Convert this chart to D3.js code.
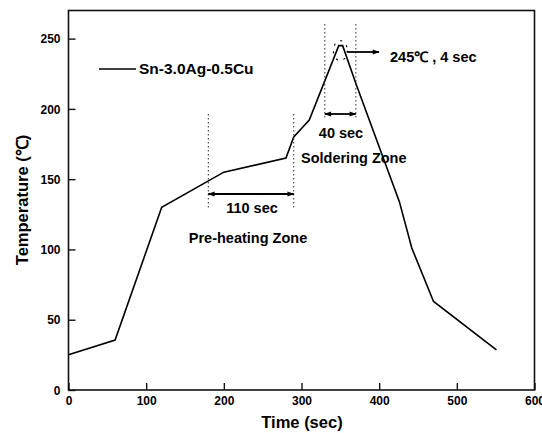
<!DOCTYPE html>
<html><head><meta charset="utf-8">
<script src="https://cdn.jsdelivr.net/npm/d3@7"></script>
<style>body{margin:0;background:#fff}svg{display:block}text{font-family:"Liberation Sans",Arial,sans-serif;font-weight:bold;fill:#000}</style>
</head><body><svg id="c" width="542" height="433"></svg>
<script>
const timeSec = [0, 60, 120, 200, 280, 290, 310, 348, 353, 370, 426, 442, 470, 551];
const tempC   = [25, 35.5, 130, 155, 165, 180, 192, 245, 245, 218, 134, 101, 63, 28.5];
const xTicks = [0, 100, 200, 300, 400, 500, 600];
const yTicks = [0, 50, 100, 150, 200, 250];
const seriesName = "Sn-3.0Ag-0.5Cu";
const preheatZone = [180, 290];
const solderZone = [330, 370];
const peak = [350, 245];

const svg = d3.select("#c");
const m = {l:68.5, r:534.5, t:10.5, b:390};
const x = d3.scaleLinear().domain([0,600]).range([m.l, m.r]);
const y = d3.scaleLinear().domain([0,270]).range([m.b, m.t]);

// frame
svg.append("rect").attr("x",m.l).attr("y",m.t).attr("width",m.r-m.l).attr("height",m.b-m.t)
  .attr("fill","none").attr("stroke","#111").attr("stroke-width",1.6);

// x axis
const xa = svg.append("g").attr("transform",`translate(0,${m.b})`)
  .call(d3.axisBottom(x).tickValues(xTicks).tickSizeInner(-7).tickSizeOuter(0).tickPadding(4));
xa.select(".domain").remove();
xa.selectAll("line").attr("stroke","#111").attr("stroke-width",1.4);
xa.selectAll("text").attr("font-size",12).attr("dy","0.9em");
// y axis
const ya = svg.append("g").attr("transform",`translate(${m.l},0)`)
  .call(d3.axisLeft(y).tickValues(yTicks).tickSizeInner(-7).tickSizeOuter(0).tickPadding(8));
ya.select(".domain").remove();
ya.selectAll("line").attr("stroke","#111").attr("stroke-width",1.4);
ya.selectAll("text").attr("font-size",12).attr("dy","0.35em");

svg.append("text").attr("x",302).attr("y",428).attr("text-anchor","middle").attr("font-size",16.5).text("Time (sec)");
svg.append("text").attr("transform","translate(28,200) rotate(-90)").attr("text-anchor","middle").attr("font-size",16.5).text("Temperature (℃)");

// defs arrow
const defs = svg.append("defs");
defs.append("marker").attr("id","ah").attr("viewBox","0 0 10 10").attr("refX",9).attr("refY",5)
  .attr("markerWidth",8).attr("markerHeight",7).attr("orient","auto-start-reverse").attr("markerUnits","userSpaceOnUse")
  .append("path").attr("d","M0,1.5L10,5L0,8.5Z").attr("fill","#000");

// curve
const data = timeSec.map((t,i)=>[t,tempC[i]]);
svg.append("path").datum(data).attr("fill","none").attr("stroke","#000").attr("stroke-width",1.6)
  .attr("stroke-linejoin","miter")
  .attr("d", d3.line().x(d=>x(d[0])).y(d=>y(d[1])));

// legend
svg.append("line").attr("x1",99).attr("x2",136).attr("y1",69).attr("y2",69).attr("stroke","#000").attr("stroke-width",1.6);
svg.append("text").attr("x",139).attr("y",69).attr("dy","0.35em").attr("font-size",15.5).text(seriesName);

// zone dotted lines
function vdot(t, y1, y2){
  svg.append("line").attr("x1",x(t)).attr("x2",x(t)).attr("y1",y1).attr("y2",y2)
    .attr("stroke","#333").attr("stroke-width",1).attr("stroke-dasharray","1.5,2.5");
}
preheatZone.forEach(t=>vdot(t,114,208));
solderZone.forEach(t=>vdot(t,24,118));

function harrow(x1,x2,yy,both){
  const l = svg.append("line").attr("x1",x1).attr("x2",x2).attr("y1",yy).attr("y2",yy)
    .attr("stroke","#000").attr("stroke-width",1.8).attr("marker-end","url(#ah)");
  if(both) l.attr("marker-start","url(#ah)");
}
harrow(x(preheatZone[0]), x(preheatZone[1]), 194, true);
harrow(x(solderZone[0]), x(solderZone[1]), 114, true);

svg.append("text").attr("x",252).attr("y",208).attr("dy","0.35em").attr("text-anchor","middle").attr("font-size",14.5).text((preheatZone[1]-preheatZone[0])+" sec");
svg.append("text").attr("x",248).attr("y",238).attr("dy","0.35em").attr("text-anchor","middle").attr("font-size",14.5).text("Pre-heating Zone");
svg.append("text").attr("x",341).attr("y",133).attr("dy","0.35em").attr("text-anchor","middle").attr("font-size",14.5).text((solderZone[1]-solderZone[0])+" sec");
svg.append("text").attr("x",301).attr("y",158).attr("dy","0.35em").attr("font-size",14.5).text("Soldering Zone");

// peak marker
const px = x(peak[0]), py = y(peak[1]);
svg.append("ellipse").attr("cx",px).attr("cy",py+5).attr("rx",7).attr("ry",10)
  .attr("fill","none").attr("stroke","#000").attr("stroke-width",1.2).attr("stroke-dasharray","2,6");
harrow(px+7, 379, 52, false);
svg.append("text").attr("x",390).attr("y",57).attr("dy","0.35em").attr("font-size",14.5).text(peak[1]+"℃ , 4 sec");
</script></body></html>
